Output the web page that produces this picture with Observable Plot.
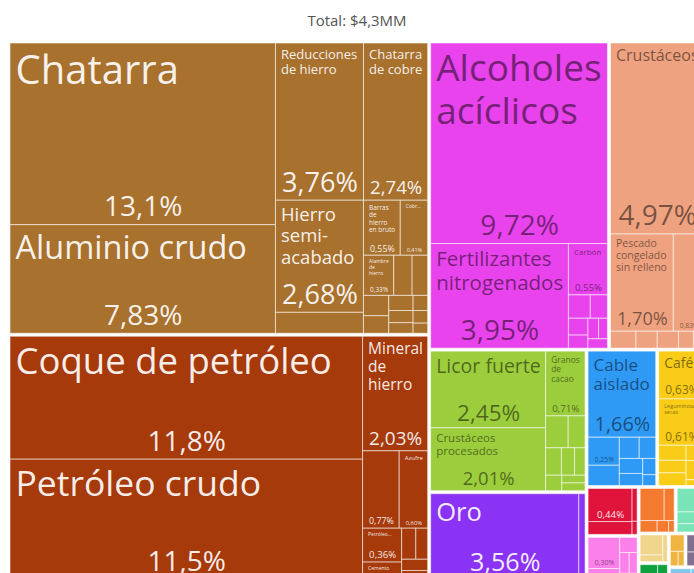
<!DOCTYPE html>
<html>
<head>
<meta charset="utf-8">
<script src="https://cdn.jsdelivr.net/npm/d3@7"></script>
<script src="https://cdn.jsdelivr.net/npm/@observablehq/plot@0.6"></script>
<style>
html, body { margin: 0; padding: 0; background: #fff; overflow: hidden; }
#title { width: 694px; height: 43px; box-sizing: border-box; padding-left: 20px; text-align: center;
  font: 15px "Open Sans", sans-serif; color: #555; line-height: 40px; }
#chart svg { display: block; }
</style>
</head>
<body>
<div id="title"></div>
<div id="chart"></div>
<script>
// ---- data ----
const titulo = "Total: $4,3MM";

const grupos = ["Metales", "Productos minerales", "Productos químicos", "Productos animales",
  "Productos alimenticios", "Metales preciosos", "Máquinas", "Productos vegetales",
  "Transporte", "Textiles", "Plásticos y caucho", "Instrumentos", "Piedra y vidrio",
  "Madera", "Papel", "Varios", "Calzado"];
const coloresGrupo = ["#a9712e", "#a63a0b", "#e843ec", "#efa27f", "#9bcd3c", "#8b33f4", "#2f9af6",
  "#f8cc17", "#e0143a", "#fb80ea", "#f47a30", "#79e4b6", "#f0d68c", "#0fa140", "#efb540", "#806f8f", "#7fc7ee"];

const producto = [
  // Metales
  "Chatarra", "Aluminio crudo", "Reducciones de hierro", "Chatarra de cobre", "Hierro semi-acabado", "",
  "Barras de hierro en bruto", "Cobre refinado", "Alambre de hierro", "", "", "", "", "", "", "", "", "", "",
  // Productos minerales
  "Coque de petróleo", "Petróleo crudo", "Mineral de hierro", "", "Azufre", "Petróleo refinado", "Cemento", "", "", "", "",
  // Productos químicos
  "Alcoholes acíclicos", "Fertilizantes nitrogenados", "Carbón", "", "", "", "", "", "", "",
  // Productos animales
  "Crustáceos", "Pescado congelado sin relleno", "", "", "", "", "", "",
  // Productos alimenticios
  "Licor fuerte", "Crustáceos procesados", "Granos de cacao", "", "", "", "", "", "", "", "",
  // Metales preciosos
  "Oro", "",
  // Máquinas
  "Cable aislado", "", "", "", "", "", "", "", "",
  // Productos vegetales
  "Café", "Leguminosas secas", "", "", "", "", "", "", "",
  // Transporte
  "", "", "", "",
  // Textiles
  "", "", "", "", "", "",
  // Plásticos
  "", "", "", "", "",
  // Instrumentos
  "", "", "",
  // Piedra y vidrio
  "", "", "",
  // Madera
  "", "",
  // Papel
  "", "", "",
  // Varios
  "", "",
  // Calzado
  "", ""
];
const grupoDe = [
  ...Array(19).fill("Metales"),
  ...Array(11).fill("Productos minerales"),
  ...Array(10).fill("Productos químicos"),
  ...Array(8).fill("Productos animales"),
  ...Array(11).fill("Productos alimenticios"),
  ...Array(2).fill("Metales preciosos"),
  ...Array(9).fill("Máquinas"),
  ...Array(9).fill("Productos vegetales"),
  ...Array(4).fill("Transporte"),
  ...Array(6).fill("Textiles"),
  ...Array(5).fill("Plásticos y caucho"),
  ...Array(3).fill("Instrumentos"),
  ...Array(3).fill("Piedra y vidrio"),
  ...Array(2).fill("Madera"),
  ...Array(3).fill("Papel"),
  ...Array(2).fill("Varios"),
  ...Array(2).fill("Calzado")
];
const participacion = [
  13.1, 7.83, 3.76, 2.74, 2.68, 0.50, 0.55, 0.41, 0.33, 0.20, 0.17, 0.14, 0.12, 0.10, 0.08, 0.07, 0.06, 0.05, 0.04,
  11.8, 11.5, 2.03, 0.77, 0.60, 0.36, 0.18, 0.12, 0.10, 0.08, 0.06,
  9.72, 3.95, 0.55, 0.14, 0.11, 0.09, 0.07, 0.06, 0.05, 0.05,
  4.97, 1.70, 0.83, 0.12, 0.10, 0.10, 0.07, 0.05,
  2.45, 2.01, 0.71, 0.20, 0.15, 0.12, 0.10, 0.08, 0.07, 0.05, 0.05,
  3.56, 0.15,
  1.66, 0.25, 0.18, 0.12, 0.10, 0.10, 0.08, 0.06, 0.04,
  0.63, 0.61, 0.12, 0.10, 0.10, 0.08, 0.06, 0.04, 0.03,
  0.44, 0.17, 0.05, 0.02,
  0.30, 0.10, 0.08, 0.06, 0.05, 0.03,
  0.24, 0.10, 0.06, 0.04, 0.02,
  0.20, 0.10, 0.07,
  0.15, 0.05, 0.04,
  0.09, 0.05,
  0.08, 0.04, 0.03,
  0.10, 0.08,
  0.08, 0.05
];

// ---- layout ----
document.getElementById("title").textContent = titulo;
const W = 694, H = 530, tmW = 694, tmH = 536;
const FONT = '"Open Sans"';
const ctx = document.createElement("canvas").getContext("2d");
function measure(t, f) { ctx.font = `${f}px ${FONT}`; return ctx.measureText(t).width; }
const fmt = v => (v >= 10 ? v.toFixed(1) : v.toFixed(2)).replace(".", ",") + "%";
const LH = 1.15;

function tokens(s) {
  const out = [];
  s.split(" ").forEach((w, wi) => {
    w.split(/(?<=-)/).forEach((p, pi) => out.push({t: p, sp: wi > 0 && pi === 0}));
  });
  return out;
}
function wrap(s, f, maxW) {
  const lines = []; let cur = "";
  for (const k of tokens(s)) {
    if (measure(k.t, f) > maxW) return null;
    const cand = cur ? cur + (k.sp ? " " : "") + k.t : k.t;
    if (measure(cand, f) <= maxW) cur = cand;
    else { lines.push(cur); cur = k.t; }
  }
  if (cur) lines.push(cur);
  return lines;
}
function truncFit(s, f, maxW, maxLines) {
  const lines = []; let cur = "";
  for (const k of tokens(s)) {
    const cand = cur ? cur + (k.sp ? " " : "") + k.t : k.t;
    if (measure(cand, f) <= maxW) { cur = cand; continue; }
    if (cur && lines.length < maxLines - 1 && measure(k.t, f) <= maxW) { lines.push(cur); cur = k.t; continue; }
    let base = cur || k.t;
    while (base.length && measure(base + "...", f) > maxW) base = base.slice(0, -1);
    if (!base.length) return lines.length ? lines : null;
    lines.push(base + "...");
    return lines;
  }
  if (cur) lines.push(cur);
  return lines;
}
function fitName(name, w, tileH, availH) {
  const maxW = w - 10;
  if (maxW < 8 || availH < 6) return null;
  const cap = Math.min(40, tileH * 0.3);
  for (let f = Math.floor(cap * 2) / 2; f >= 5; f -= 0.5) {
    const L = wrap(name, f, maxW);
    if (L && L.length * f * LH <= availH) return {f, L};
  }
  const f = 5, maxLines = Math.floor(availH / (f * LH));
  if (maxLines < 1) return null;
  const L = truncFit(name, f, maxW, maxLines);
  return L ? {f, L} : null;
}

const colorOf = new Map(grupos.map((g, i) => [g, coloresGrupo[i]]));
const tree = {children: grupos.map(g => ({
  grupo: g,
  children: producto.map((p, i) => ({nombre: p, valor: participacion[i], grupo: grupoDe[i]})).filter(d => d.grupo === g)
}))};
const root = d3.hierarchy(tree).sum(d => d.children ? 0 : d.valor);
d3.treemap().tile(d3.treemapSquarify).size([tmW, tmH]).paddingInner(n => n.depth === 0 ? 3 : 0)(root);

const tiles = root.leaves().map(n => {
  const w = n.x1 - n.x0, h = n.y1 - n.y0;
  const fill = colorOf.get(n.data.grupo);
  const tc = d3.lab(fill).l < 58 ? "rgba(255,255,255,0.92)" : "rgba(0,0,0,0.5)";
  const share = fmt(n.data.valor);
  const sf = Math.min(28, h / 3.4, (w - 12) / (measure(share, 100) / 100));
  const showShare = sf >= 5.5 && h >= 22;
  let nm = null;
  if (n.data.nombre) {
    const avail = h - (showShare ? sf * 1.3 + 6 : 4) - 6;
    nm = fitName(n.data.nombre, w, h, avail);
  }
  return {x0: n.x0, x1: n.x1, y0: n.y0, y1: n.y1, fill, tc, share, sf, showShare,
    nf: nm ? nm.f : 0, lines: nm ? nm.L : null};
});

const chart = Plot.plot({
  width: W, height: H, margin: 0,
  style: {fontFamily: FONT, background: "white"},
  x: {domain: [-10, tmW - 10], range: [0, W], axis: null},
  y: {domain: [0, H], range: [0, H], axis: null},
  color: {type: "identity"},
  marks: [
    Plot.rect(tiles, {x1: "x0", x2: "x1", y1: "y0", y2: "y1", fill: "fill",
      stroke: "white", strokeOpacity: 0.55, strokeWidth: 1}),
    Plot.text(tiles.filter(t => t.lines), {
      x: "x0", y: t => t.y0 + 3 + 0.12 * t.nf, dx: 5,
      text: t => t.lines.join("\n"), fontSize: t => t.nf,
      textAnchor: "start", lineAnchor: "top", lineHeight: LH, fill: "tc"
    }),
    Plot.text(tiles.filter(t => t.showShare), {
      x: t => (t.x0 + t.x1) / 2, y: t => t.y1 - 0.25 * t.sf - 2,
      text: "share", fontSize: t => t.sf,
      textAnchor: "middle", lineAnchor: "bottom", fill: "tc"
    })
  ]
});
document.getElementById("chart").appendChild(chart);
</script>
</body>
</html>
